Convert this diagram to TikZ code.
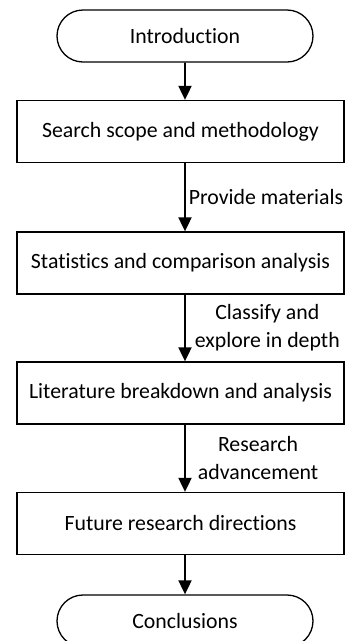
\documentclass[tikz,border=0pt]{standalone}
\usepackage{fontspec}
\setmainfont{Carlito}[Ligatures=NoCommon]
\usetikzlibrary{arrows.meta,shapes.misc}
\begin{document}
\begin{tikzpicture}[x=1pt,y=-1pt,
    every node/.style={font=\fontsize{21.8}{28}\selectfont},
    stage/.style={draw,line width=1.3pt,rectangle,minimum width=327pt,minimum height=62pt,inner sep=0pt},
    terminal/.style={draw,line width=1.3pt,rounded rectangle,minimum width=256pt,minimum height=52pt,inner sep=0pt},
    flow/.style={line width=1.9pt,-{Triangle[width=13pt,length=14pt]}},
    note/.style={right,align=center,inner sep=3pt}]
        \useasboundingbox (0,0) rectangle (345,641);
        \node [terminal] (intro) at (185,36) {Introduction};
        \node [stage] (search) at (180.5,131.5) {Search scope and methodology};
        \node [stage] (stats) at (180.5,263) {Statistics and comparison analysis};
        \node [stage] (lit) at (180.5,393) {Literature breakdown and analysis};
        \node [stage] (future) at (180.5,523.5) {Future research directions};
        \node [terminal] (concl) at (185,621) {Conclusions};
        \draw [flow] (intro) -- (search.north -| intro);
        \draw [flow] (search.south -| intro) -- node [note,midway] (lbla) {Provide materials} (stats.north -| intro);
        \draw [flow] (stats.south -| intro) -- node [note,midway,xshift=6pt] (lblb) {Classify and\\explore in depth} (lit.north -| intro);
        \draw [flow] (lit.south -| intro) -- node [note,midway,xshift=9pt] (lblc) {Research\\advancement} (future.north -| intro);
        \draw [flow] (future.south -| intro) -- (concl);
      \end{tikzpicture}
\end{document}
